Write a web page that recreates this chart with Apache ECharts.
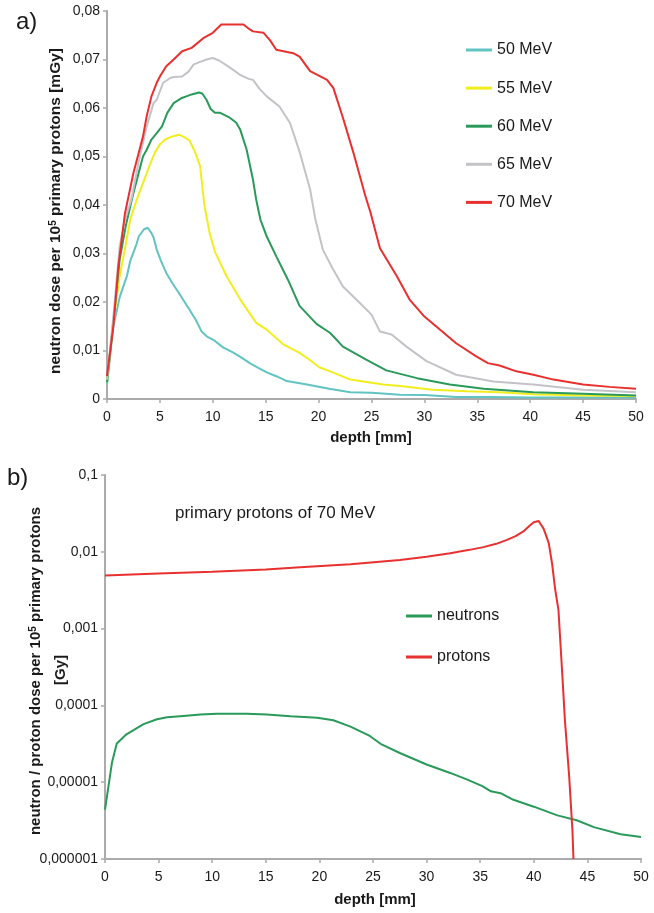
<!DOCTYPE html>
<html>
<head>
<meta charset="utf-8">
<script src="https://cdn.jsdelivr.net/npm/echarts@6/dist/echarts.min.js"></script>
<style>html,body{margin:0;padding:0;background:#fff}#c{width:654px;height:913px}</style>
</head>
<body>
<div id="c"></div>
<script>
// ---------- data: panel a) ----------
var xTicks = [0,5,10,15,20,25,30,35,40,45,50];
var seriesNamesA = ['50 MeV','55 MeV','60 MeV','65 MeV','70 MeV'];

var depth50 = [0,0.6,1.2,1.9,2.2,2.8,3.0,3.5,3.85,4.2,4.4,4.7,5.1,5.6,6.2,6.9,7.8,8.4,8.95,9.5,10.05,11,11.9,12.6,13.5,14.3,15.1,16,17,18.9,21,23,25,27.7,30,33,36,40,45,50];
var dose50  = [0.003,0.015,0.021,0.0255,0.0285,0.032,0.0335,0.035,0.0353,0.0342,0.0333,0.0308,0.0285,0.026,0.0238,0.0215,0.0184,0.0163,0.0139,0.0128,0.0122,0.0106,0.0096,0.0087,0.0074,0.0064,0.0055,0.0047,0.0037,0.003,0.0021,0.0014,0.0013,0.0009,0.0008,0.0004,0.0004,0.0003,0.0003,0.0003];

var depth55 = [0,0.6,1.2,1.7,2.2,2.8,3.4,4.0,4.5,5.0,5.5,6.1,6.8,7.3,7.8,8.3,8.8,9.2,9.7,10.2,11.3,12.6,14.1,15.1,16.7,18.2,19.2,20.1,21.1,23,26.1,27.7,30.8,34,37.1,40.3,45,50];
var dose55  = [0.0035,0.016,0.0253,0.031,0.037,0.041,0.0445,0.048,0.0507,0.0525,0.0535,0.0541,0.0545,0.054,0.0533,0.051,0.048,0.040,0.0342,0.0304,0.0253,0.0205,0.0157,0.0143,0.0112,0.0095,0.008,0.0065,0.0057,0.004,0.003,0.0027,0.0019,0.0016,0.0014,0.001,0.0007,0.0006];

var depth60 = [0,0.6,1.2,1.8,2.5,3.4,3.75,4.2,4.7,5.2,5.7,6.3,7.0,7.5,8.0,8.7,9.0,9.4,9.8,10.2,10.7,11.6,12.2,12.6,13.2,13.8,14.1,14.5,15.1,16,17.1,18.2,19.8,21.1,22.3,24.5,26.4,29.3,32.4,35.6,40.3,45,50];
var dose60  = [0.0035,0.016,0.0288,0.036,0.0425,0.05,0.0514,0.0535,0.0548,0.0562,0.059,0.061,0.062,0.0624,0.0628,0.0632,0.063,0.0617,0.0598,0.059,0.059,0.058,0.057,0.0555,0.0514,0.0452,0.0411,0.037,0.0335,0.0294,0.0246,0.0192,0.0155,0.0136,0.0108,0.0081,0.0059,0.0043,0.003,0.0021,0.0014,0.0011,0.0007];

var depth65 = [0,0.6,1.2,1.7,2.3,3.0,3.75,4.4,4.7,5.3,6.0,6.3,7.1,7.7,8.2,8.8,9.4,10,10.6,11.3,11.9,12.6,13.4,13.8,14.4,15.1,16.3,17.3,18.2,19.2,19.7,20.4,21.3,22.3,23.9,25,25.8,26.9,28.3,30.2,33,36.5,40.3,45,50];
var dose65  = [0.004,0.017,0.0315,0.037,0.0411,0.049,0.0562,0.061,0.0617,0.0652,0.0662,0.0664,0.0665,0.0675,0.069,0.0695,0.07,0.0703,0.0698,0.0688,0.0679,0.0668,0.066,0.0658,0.064,0.0624,0.0603,0.0569,0.051,0.0432,0.037,0.0308,0.027,0.0232,0.0198,0.0174,0.0139,0.0133,0.0108,0.0078,0.005,0.0036,0.003,0.0019,0.0014];

var depth70 = [0,0.6,1.07,1.7,2.5,3.4,3.75,4.2,4.7,5.0,5.6,6.3,7.1,8,9.1,10,10.8,12.9,13.5,13.8,14.8,15.4,16,17.6,18.2,19.2,20.8,21.4,22.3,23.3,24.4,24.9,25.8,27.4,28.6,30,33,34.9,36,37.1,38.7,40.3,42.2,45,47.5,50];
var dose70  = [0.0047,0.015,0.0273,0.0383,0.0466,0.0541,0.0583,0.0624,0.0652,0.0665,0.0686,0.07,0.0717,0.0724,0.0744,0.0755,0.0772,0.0772,0.0762,0.0758,0.0755,0.074,0.072,0.0713,0.0706,0.0676,0.0658,0.0641,0.058,0.0507,0.042,0.0385,0.0311,0.0253,0.0205,0.017,0.0115,0.0088,0.0074,0.0069,0.0057,0.005,0.004,0.003,0.0025,0.0021];

var yTicksA = [0,0.01,0.02,0.03,0.04,0.05,0.06,0.07,0.08];

// ---------- data: panel b) ----------
var seriesNamesB = ['neutrons','protons'];
var depthN = [0,0.65,1.1,2,2.7,3.6,4.85,5.8,7.3,8.9,10.4,13.2,15.1,17.3,19.8,21.3,22.9,24.7,25.8,27.5,30,32.2,33.8,35.2,36,36.9,38.1,40,42.2,44,45.6,48.1,50];
var doseN  = [4.4e-6,1.8e-5,3.2e-5,4.2e-5,4.8e-5,5.7e-5,6.6e-5,7.0e-5,7.3e-5,7.6e-5,7.8e-5,7.8e-5,7.6e-5,7.2e-5,6.9e-5,6.4e-5,5.3e-5,4.0e-5,3.1e-5,2.4e-5,1.7e-5,1.32e-5,1.08e-5,8.9e-6,7.6e-6,7.2e-6,5.9e-6,4.8e-6,3.7e-6,3.2e-6,2.6e-6,2.1e-6,1.94e-6];
var depthP = [0,5,10,15,18.2,22.9,27.5,30,32.2,34,35.3,36.5,37.5,38.3,39,39.6,40,40.45,40.9,41.1,41.4,41.7,42,42.3,42.7,42.9,43.3,43.6,43.7];
var doseP  = [0.0049,0.0052,0.0055,0.0059,0.0063,0.0069,0.0078,0.0086,0.0096,0.0106,0.0115,0.0127,0.0143,0.016,0.0183,0.0218,0.0242,0.0252,0.0202,0.017,0.0129,0.0071,0.0032,0.00175,0.0002,0.0000646,0.0000119,0.00000241,0.000001];
var yTicksB = ['0,1','0,01','0,001','0,0001','0,00001','0,000001'];

var colorsA = ['#62c3c3','#f2ee1e','#2a9a5a','#c3c3c8','#e8312f'];
var colorsB = ['#2a9a5a','#e8312f'];

function zip(xs, ys){ return xs.map(function(x,i){ return [x, ys[i]]; }); }

var FONT = '"Liberation Sans", Arial, sans-serif';
var TXT = '#1a1a1a';
var AXC = '#ababab';

var chart = echarts.init(document.getElementById('c'), null, {renderer:'canvas'});

var dataA = [zip(depth50,dose50), zip(depth55,dose55), zip(depth60,dose60), zip(depth65,dose65), zip(depth70,dose70)];
var dataB = [zip(depthN,doseN), zip(depthP,doseP)];

var series = [];
seriesNamesA.forEach(function(n,i){
  series.push({name:n, type:'line', xAxisIndex:0, yAxisIndex:0, data:dataA[i], showSymbol:false, symbol:'none',
    lineStyle:{color:colorsA[i], width:2}, itemStyle:{color:colorsA[i]}, z:2+i, animation:false});
});
seriesNamesB.forEach(function(n,i){
  series.push({name:n, type:'line', xAxisIndex:1, yAxisIndex:1, data:dataB[i], showSymbol:false, symbol:'none',
    lineStyle:{color:colorsB[i], width:2}, itemStyle:{color:colorsB[i]}, z:2+i, animation:false});
});

function xAxisCfg(gi){
  return {type:'value', gridIndex:gi, min:0, max:50, interval:5,
    axisLine:{show:true, lineStyle:{color:AXC, width:2}},
    axisTick:{show:true, inside:false, length:4, lineStyle:{color:AXC, width:1.5}},
    axisLabel:{fontSize:14, color:TXT, fontFamily:FONT, margin:11,
      formatter:function(v){ return xTicks.indexOf(v)>=0 ? String(v) : ''; }},
    splitLine:{show:false}};
}

var option = {
  backgroundColor:'#fff',
  animation:false,
  grid:[
    {left:107, top:11, width:529, height:388, containLabel:false},
    {left:105, top:475, width:536, height:384, containLabel:false}
  ],
  xAxis:[xAxisCfg(0), xAxisCfg(1)],
  yAxis:[
    {type:'value', gridIndex:0, min:0, max:0.08, interval:0.01,
      axisLine:{show:true, lineStyle:{color:AXC, width:2}},
      axisTick:{show:true, length:4, lineStyle:{color:AXC, width:1.5}},
      axisLabel:{fontSize:14, color:TXT, fontFamily:FONT, margin:7,
        formatter:function(v){
          var best = yTicksA.reduce(function(a,b){ return Math.abs(b-v)<Math.abs(a-v)?b:a; });
          return best===0 ? '0' : best.toFixed(2).replace('.',',');
        }},
      splitLine:{show:false}},
    {type:'log', logBase:10, gridIndex:1, min:0.000001, max:0.1,
      axisLine:{show:true, lineStyle:{color:AXC, width:2}},
      axisTick:{show:true, length:4, lineStyle:{color:AXC, width:1.5}},
      axisLabel:{fontSize:14, color:TXT, fontFamily:FONT, margin:7,
        formatter:function(v){
          var k = Math.round(-Math.log10(v)); // 1..6
          return yTicksB[k-1] || '';
        }},
      splitLine:{show:false}, minorTick:{show:false}}
  ],
  legend:[
    {data:seriesNamesA, orient:'vertical', left:466, top:42, padding:0, itemGap:22.1, itemWidth:26, itemHeight:3, icon:'rect',
      textStyle:{fontSize:16, color:TXT, fontFamily:FONT}, selectedMode:false},
    {data:seriesNamesB, orient:'vertical', left:406, top:608, padding:0, itemGap:25, itemWidth:26, itemHeight:3, icon:'rect',
      textStyle:{fontSize:16, color:TXT, fontFamily:FONT}, selectedMode:false}
  ],
  graphic:[
    {type:'text', left:16, top:10, style:{text:'a)', font:'24px '+FONT, fill:TXT}},
    {type:'text', left:7, top:466, style:{text:'b)', font:'24px '+FONT, fill:TXT}},
    {type:'text', x:56, y:211, rotation:Math.PI/2,
      style:{text:'neutron dose per 10{sup|5} primary protons [mGy]', align:'center', verticalAlign:'middle',
        font:'bold 15.5px '+FONT, fill:TXT,
        rich:{sup:{fontSize:10, fontWeight:'bold', fontFamily:FONT, verticalAlign:'top', padding:[0,0,6,0], fill:TXT, color:TXT}}}},
    {type:'text', x:371, y:438, style:{text:'depth [mm]', align:'center', verticalAlign:'middle', font:'bold 15px '+FONT, fill:TXT}},
    {type:'text', x:36, y:671, rotation:Math.PI/2,
      style:{text:'neutron / proton dose per 10{sup|5} primary protons', align:'center', verticalAlign:'middle',
        font:'bold 15px '+FONT, fill:TXT,
        rich:{sup:{fontSize:10, fontWeight:'bold', fontFamily:FONT, verticalAlign:'top', padding:[0,0,6,0], fill:TXT, color:TXT}}}},
    {type:'text', x:61, y:670, rotation:Math.PI/2,
      style:{text:'[Gy]', align:'center', verticalAlign:'middle', font:'bold 15px '+FONT, fill:TXT}},
    {type:'text', x:375, y:900, style:{text:'depth [mm]', align:'center', verticalAlign:'middle', font:'bold 15px '+FONT, fill:TXT}},
    {type:'text', x:175, y:513, style:{text:'primary protons of 70 MeV', align:'left', verticalAlign:'middle', font:'17px '+FONT, fill:TXT}}
  ],
  series:series
};
chart.setOption(option);
</script>
</body>
</html>
